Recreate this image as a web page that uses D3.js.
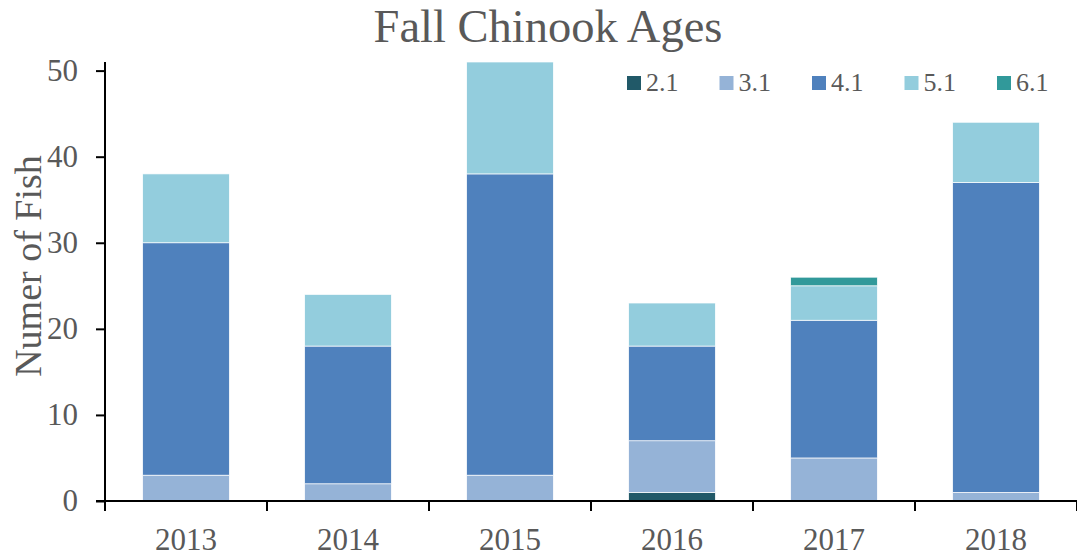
<!DOCTYPE html>
<html><head><meta charset="utf-8">
<script src="https://cdn.jsdelivr.net/npm/d3@7"></script>
<style>body{margin:0;background:#fff}svg{display:block}svg text{font-family:'Liberation Serif','Times New Roman',serif !important}</style>
</head><body>
<svg id="c" width="1077" height="557"></svg>
<script>
const years = ["2013","2014","2015","2016","2017","2018"];
const ages = ["2.1","3.1","4.1","5.1","6.1"];
const age21 = [0,0,0,1,0,0];
const age31 = [3,2,3,6,5,1];
const age41 = [27,16,35,11,16,36];
const age51 = [8,6,13,5,4,7];
const age61 = [0,0,0,0,1,0];
const colors = ["#215968","#95B3D7","#4F81BD","#93CDDD","#31999A"];
const yTicks = [0,10,20,30,40,50];

const rows = years.map((y,i)=>({year:y,"2.1":age21[i],"3.1":age31[i],"4.1":age41[i],"5.1":age51[i],"6.1":age61[i]}));
const stack = d3.stack().keys(ages)(rows);

const svg = d3.select("#c");
const mL=105, mR=1077, mT=62, mB=501;
const x = d3.scaleBand().domain(years).range([mL,mR]).paddingInner(0.465).paddingOuter(0.2325);
const y = d3.scaleLinear().domain([0,51]).range([mB,mT]);
const color = d3.scaleOrdinal().domain(ages).range(colors);
const grey = "#595959";

svg.append("g").selectAll("g").data(stack).join("g")
  .attr("fill",d=>color(d.key))
  .selectAll("rect").data(d=>d).join("rect")
  .attr("x",d=>x(d.data.year)).attr("width",x.bandwidth())
  .attr("y",d=>y(d[1])).attr("height",d=>y(d[0])-y(d[1]))
  .attr("stroke","#fff").attr("stroke-width",0.7);

// y axis
const ya = svg.append("g").attr("transform",`translate(${mL},0)`)
  .call(d3.axisLeft(y).tickValues(yTicks).tickSize(9).tickPadding(18));
ya.select(".domain").attr("stroke","#000").attr("stroke-width",2).attr("d",`M0,${mT}V${mB}`);
ya.selectAll(".tick line").attr("stroke","#000").attr("stroke-width",2);
ya.selectAll("text").attr("font-size",31).attr("fill",grey);

// x axis
const xa = svg.append("g").attr("transform",`translate(0,${mB})`);
xa.append("line").attr("x1",mL-9).attr("x2",mR).attr("stroke","#000").attr("stroke-width",2);
xa.selectAll("line.t").data(years.concat(["end"])).join("line").attr("class","t")
  .attr("x1",(d,i)=>mL+i*x.step()).attr("x2",(d,i)=>mL+i*x.step())
  .attr("y1",0).attr("y2",10).attr("stroke","#000").attr("stroke-width",2);
xa.selectAll("text").data(years).join("text")
  .attr("x",d=>x(d)+x.bandwidth()/2).attr("y",49)
  .attr("text-anchor","middle").attr("font-size",31).attr("fill",grey)
  .text(d=>d);

// title
svg.append("text").attr("x",548).attr("y",42).attr("text-anchor","middle")
  .attr("font-size",46.5).attr("fill",grey).text("Fall Chinook Ages");
// y label
svg.append("text").attr("transform","translate(41,266) rotate(-90)").attr("text-anchor","middle")
  .attr("font-size",38).attr("fill",grey).text("Numer of Fish");

// legend
const lg = svg.append("g").selectAll("g").data(ages).join("g")
  .attr("transform",(d,i)=>`translate(${627+i*92.5},76)`);
lg.append("rect").attr("width",14).attr("height",14).attr("fill",d=>color(d));
lg.append("text").attr("x",19).attr("y",15).attr("font-size",26).attr("fill",grey).text(d=>d);
</script>
</body></html>
